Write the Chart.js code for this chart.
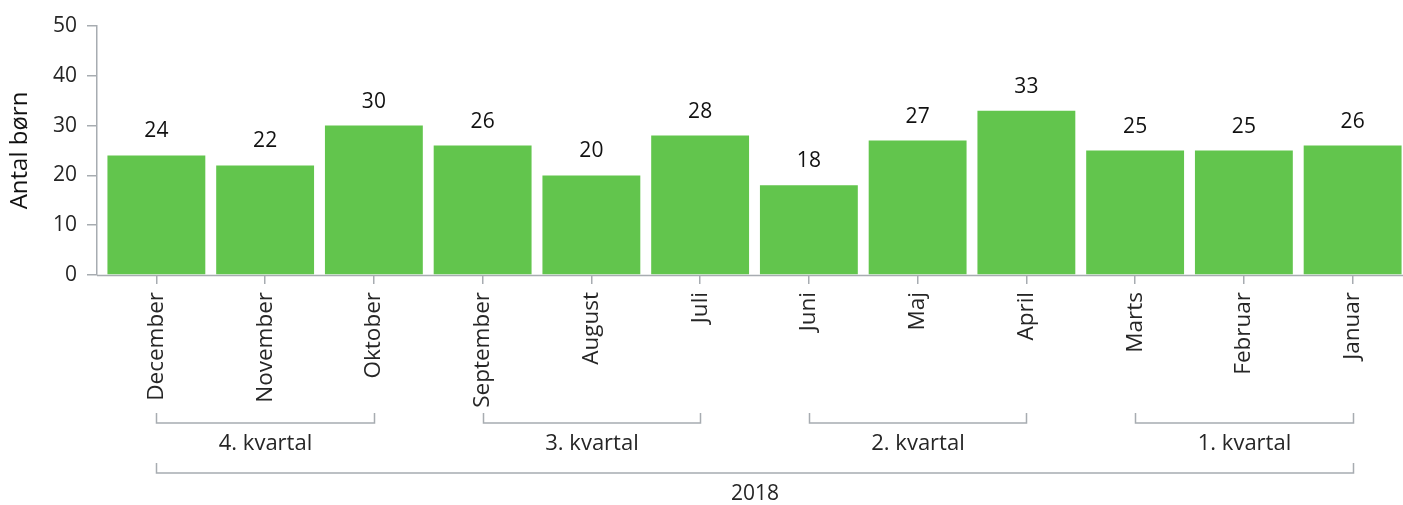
<!DOCTYPE html>
<html>
<head>
<meta charset="utf-8">
<script src="https://cdn.jsdelivr.net/npm/chart.js@4"></script>
<style>
  html, body { margin: 0; padding: 0; background: #ffffff; }
  #wrap { width: 1403px; height: 505px; position: relative; }
</style>
</head>
<body>
<div id="wrap"><canvas id="c" width="1403" height="505"></canvas></div>
<script>
const categories = ["December", "November", "Oktober", "September", "August", "Juli", "Juni", "Maj", "April", "Marts", "Februar", "Januar"];
const values = [24, 22, 30, 26, 20, 28, 18, 27, 33, 25, 25, 26];
const quarterLabels = ["4. kvartal", "3. kvartal", "2. kvartal", "1. kvartal"];
const quarterStart = [0, 3, 6, 9];
const quarterEnd = [2, 5, 8, 11];
const yearLabel = "2018";
const yTicks = [0, 10, 20, 30, 40, 50];

const FONT = "'Open Sans', 'Noto Sans', sans-serif";
const GRAY = "#a7acb1";
const TEXT = "#262626";
const GREEN = "#62c54d";

const shiftPlugin = {
  id: 'shiftX',
  afterLayout(chart) {
    const s = chart.scales.x;
    const a = chart.chartArea;
    s.left = a.left + 5;
    s.right = a.right + 4;
    s.width = s.right - s.left;
    s.configure();
  }
};

const axisLinePlugin = {
  id: 'axisLine',
  beforeDatasetsDraw(chart) {
    const ctx = chart.ctx, a = chart.chartArea;
    ctx.save();
    ctx.strokeStyle = GRAY;
    ctx.lineWidth = 1.5;
    ctx.beginPath();
    ctx.moveTo(a.left, a.bottom + 0.5);
    ctx.lineTo(a.right, a.bottom + 0.5);
    ctx.stroke();
    ctx.restore();
  }
};

const labelPlugin = {
  id: 'valueLabels',
  afterDatasetsDraw(chart) {
    const ctx = chart.ctx;
    const meta = chart.getDatasetMeta(0);
    ctx.save();
    ctx.font = "21px " + FONT;
    ctx.fillStyle = "#111111";
    ctx.textAlign = 'center';
    ctx.textBaseline = 'alphabetic';
    meta.data.forEach((bar, i) => {
      ctx.fillText(String(values[i]), bar.x, bar.y - 18);
    });
    ctx.restore();
  }
};

const groupPlugin = {
  id: 'groups',
  afterDraw(chart) {
    const ctx = chart.ctx;
    const s = chart.scales.x;
    const top = s.top;
    ctx.save();
    ctx.strokeStyle = GRAY;
    ctx.lineWidth = 1.5;
    ctx.fillStyle = TEXT;
    ctx.textAlign = 'center';
    ctx.textBaseline = 'middle';
    const bracket = (x0, x1, y0, y1) => {
      ctx.beginPath();
      ctx.moveTo(x0, y0);
      ctx.lineTo(x0, y1);
      ctx.lineTo(x1, y1);
      ctx.lineTo(x1, y0);
      ctx.stroke();
    };
    ctx.font = "22px " + FONT;
    for (let g = 0; g < quarterLabels.length; g++) {
      const x0 = Math.round(s.getPixelForTick(quarterStart[g])) + 0.5;
      const x1 = Math.round(s.getPixelForTick(quarterEnd[g])) + 0.5;
      bracket(x0, x1, top + 138, top + 148);
      ctx.fillText(quarterLabels[g], (x0 + x1) / 2, top + 169);
    }
    ctx.font = "21px " + FONT;
    const y0 = Math.round(s.getPixelForTick(0)) + 0.5;
    const y1 = Math.round(s.getPixelForTick(categories.length - 1)) + 0.5;
    bracket(y0, y1, top + 188, top + 198);
    ctx.fillText(yearLabel, (y0 + y1) / 2, top + 219);
    ctx.restore();
  }
};

new Chart(document.getElementById('c'), {
  type: 'bar',
  data: {
    labels: categories,
    datasets: [{
      data: values,
      backgroundColor: GREEN,
      borderWidth: 0,
      categoryPercentage: 1.0,
      barPercentage: 0.9
    }]
  },
  options: {
    responsive: false,
    animation: false,
    devicePixelRatio: 1,
    layout: { padding: { top: 26, right: 0, bottom: 0, left: 0 } },
    plugins: { legend: { display: false }, tooltip: { enabled: false } },
    scales: {
      x: {
        offset: true,
        afterFit(s) { s.height = 230; },
        border: { display: false },
        grid: { display: true, drawOnChartArea: false, offset: false, tickLength: 9, color: GRAY, lineWidth: 1.5 },
        ticks: {
          minRotation: 90, maxRotation: 90, autoSkip: false, padding: 8,
          color: TEXT, font: { family: FONT, size: 22.5 }
        }
      },
      y: {
        min: 0, max: 50,
        afterFit(s) { s.width = 97; },
        afterBuildTicks(s) { s.ticks = yTicks.map(v => ({ value: v })); },
        border: { display: true, color: GRAY, width: 1.5 },
        grid: { display: true, drawOnChartArea: false, tickLength: 10, color: GRAY, lineWidth: 1.5 },
        ticks: { padding: 10, color: TEXT, font: { family: FONT, size: 21 } },
        title: {
          display: true, text: "Antal børn", color: "#111111",
          font: { family: FONT, size: 24 }, padding: { top: 6, bottom: 0 }
        }
      }
    }
  },
  plugins: [shiftPlugin, axisLinePlugin, labelPlugin, groupPlugin]
});
</script>
</body>
</html>
